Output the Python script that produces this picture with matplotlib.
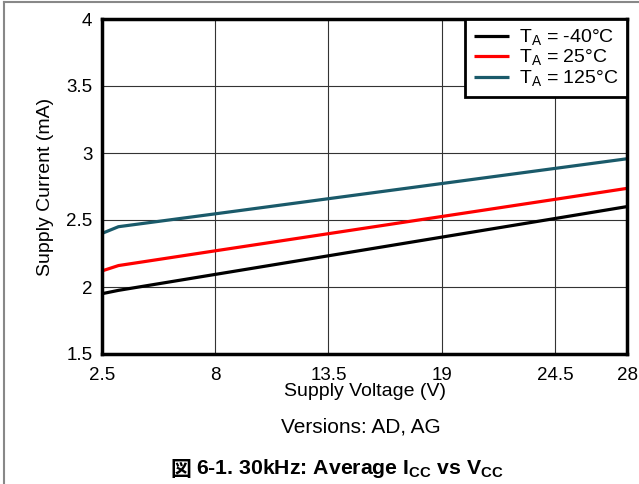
import matplotlib.pyplot as plt
import matplotlib.lines as mlines
import numpy as np

plt.rcParams['font.family'] = ['Liberation Sans', 'Noto Sans CJK JP', 'DejaVu Sans']
plt.rcParams['mathtext.fontset'] = 'custom'
plt.rcParams['mathtext.rm'] = 'Liberation Sans'
plt.rcParams['mathtext.bf'] = 'Liberation Sans:bold'

# supply voltage (V) and supply current (mA)
vcc = [2.5, 3.3, 8, 13.5, 19, 24.5, 28]
icc_m40 = [1.95, 1.975, 2.094, 2.233, 2.372, 2.511, 2.60]
icc_25 = [2.12, 2.16, 2.27, 2.398, 2.526, 2.654, 2.736]
icc_125 = [2.40, 2.45, 2.546, 2.659, 2.772, 2.885, 2.957]

labels = [r'T$_\mathrm{A}$ = -40°C', r'T$_\mathrm{A}$ = 25°C', r'T$_\mathrm{A}$ = 125°C']
colours = ['#000000', '#ff0000', '#1a5a6a']

xticks = [2.5, 8, 13.5, 19, 24.5, 28]
xticklabels = ['2.5', '8', '13.5', '19', '24.5', '28']
yticks = [1.5, 2, 2.5, 3, 3.5, 4]
yticklabels = ['1.5', '2', '2.5', '3', '3.5', '4']

fig = plt.figure(figsize=(6.39, 4.84), dpi=100)
ax = fig.add_axes([102/639, 1 - 354/484, (627-102)/639, (354-19)/484])

for y, lab, c in zip([icc_m40, icc_25, icc_125], labels, colours):
    ax.plot(vcc, y, color=c, lw=2.3, label=lab, solid_capstyle='butt')

ax.set_xlim(2.5, 28)
ax.set_ylim(1.5, 4)
ax.set_xticks(xticks)
ax.set_xticklabels(xticklabels)
ax.set_yticks(yticks)
ax.set_yticklabels(yticklabels)
ax.tick_params(length=0, labelsize=13.5)
ax.tick_params(axis='x', pad=9)
ax.tick_params(axis='y', pad=7)
ax.grid(True, color='#333333', lw=0.8)
for s in ax.spines.values():
    s.set_linewidth(2.5)

ax.set_xlabel('Supply Voltage (V)', fontsize=14, labelpad=0)
ax.set_ylabel('Supply Current (mA)', fontsize=14, labelpad=9)

leg = ax.legend(loc='upper right', fontsize=14, frameon=True, fancybox=False,
                borderaxespad=0, labelspacing=0.0, handlelength=1.8,
                handletextpad=0.5, borderpad=0.45)
leg.get_frame().set_edgecolor('black')
leg.get_frame().set_linewidth(2)
leg.get_frame().set_alpha(1)

fig.text(361/639, 1 - 427/484, 'Versions: AD, AG', fontsize=15, ha='center', va='center')
fig.text(170/639, 1 - 469/484, '図', fontsize=15, fontweight='bold', ha='left', va='center',
         family=['Noto Sans CJK JP'])
fig.text(196/639, 1 - 469/484, r'6-1. 30kHz: Average I$_\mathbf{CC}$ vs V$_\mathbf{CC}$',
         fontsize=15.3, fontweight='bold', ha='left', va='center')

# outer frame
fig.add_artist(mlines.Line2D([3.5/639, 3.5/639], [0, 1 - 1.5/484], color='#888888', lw=1.5))
fig.add_artist(mlines.Line2D([3.5/639, 1], [1 - 1.5/484, 1 - 1.5/484], color='#888888', lw=1.5))

fig.savefig('out.png', dpi=100)
